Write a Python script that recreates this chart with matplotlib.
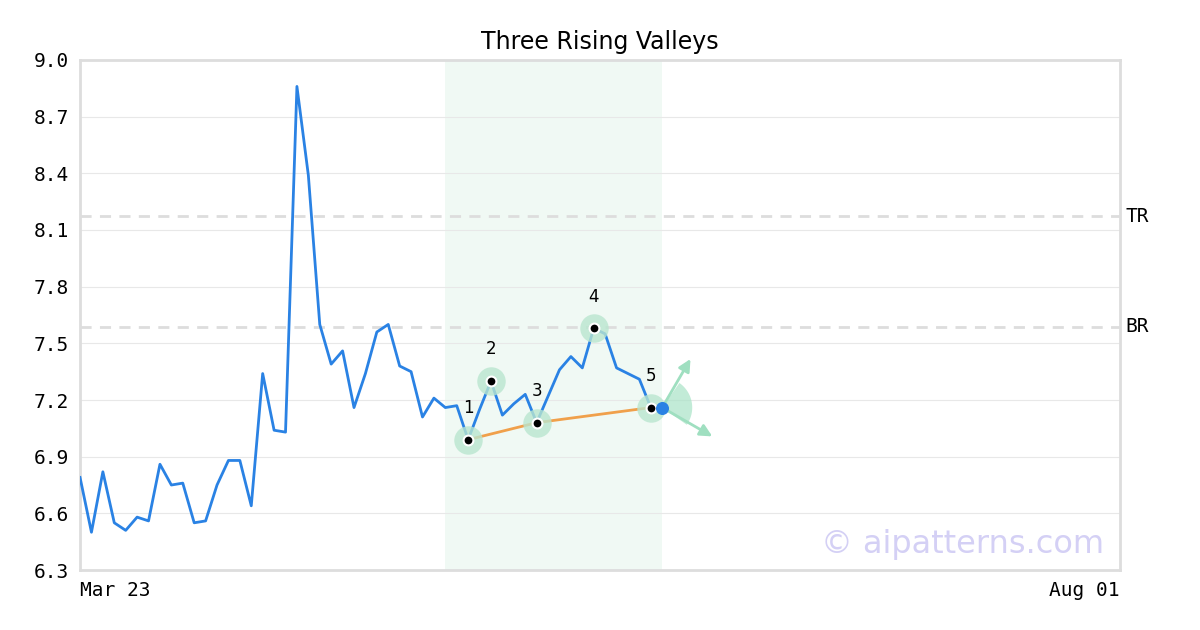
import matplotlib
matplotlib.use("Agg")
import matplotlib.pyplot as plt
from matplotlib.patches import Polygon
import numpy as np

prices = [6.79, 6.50, 6.82, 6.55, 6.51, 6.58, 6.56, 6.86, 6.75, 6.76, 6.55, 6.56,
          6.75, 6.88, 6.88, 6.64, 7.34, 7.04, 7.03, 8.86, 8.39, 7.60, 7.39, 7.46,
          7.16, 7.34, 7.56, 7.60, 7.38, 7.35, 7.11, 7.21, 7.16, 7.17, 6.99, 7.15,
          7.30, 7.12, 7.18, 7.23, 7.08, 7.22, 7.36, 7.43, 7.37, 7.58, 7.55, 7.37,
          7.34, 7.31, 7.16, 7.16]
pivot_idx = [34, 36, 40, 45, 50]
pivot_labels = ["1", "2", "3", "4", "5"]
TR, BR = 8.174, 7.587
zone = (32, 51)
yticks = [6.3, 6.6, 6.9, 7.2, 7.5, 7.8, 8.1, 8.4, 8.7, 9.0]
xtick_pos = [0, 91.1]
xtick_labels = ["Mar 23", "Aug 01"]

fig = plt.figure(figsize=(12, 6.3), dpi=100)
ax = fig.add_axes([0.0667, 0.0952, 0.8666, 0.8096])
x = np.arange(len(prices))
ax.axvspan(zone[0], zone[1], color="#e6f5ee", alpha=0.6, lw=0, zorder=0)
for v in yticks:
    ax.axhline(v, color="#e8e8e8", lw=0.8, zorder=0)
for v, lab in [(TR, "TR"), (BR, "BR")]:
    ax.axhline(v, color="#dddddd", lw=2, ls=(0, (4, 3)), zorder=1)
    ax.text(91.1 + 0.5, v, lab, va="center", ha="left", fontsize=14, family="DejaVu Sans Mono")
ax.plot(x, prices, color="#2a82e4", lw=2, zorder=3)
p1, p3, p5 = pivot_idx[0], pivot_idx[2], pivot_idx[4]
ax.plot([p1, p3, p5], [prices[p1], prices[p3], prices[p5]], color="#f0a04b", lw=2, zorder=4)
for i, lab in zip(pivot_idx, pivot_labels):
    ax.scatter(i, prices[i], s=420, color="#b9e6cf", alpha=0.8, zorder=4, lw=0)
    ax.scatter(i, prices[i], s=50, color="black", edgecolor="white", lw=1.5, zorder=6)
    ax.text(i, prices[i] + 0.12, lab, ha="center", va="bottom", fontsize=12)
last = len(prices) - 1
ax.scatter(last, prices[last], s=70, color="#2a82e4", zorder=6)
ax.annotate("", xy=(53.6, 7.43), xytext=(last, prices[last]),
            arrowprops=dict(arrowstyle="-|>", color="#9fdfc0", lw=2, mutation_scale=18), zorder=5)
ax.annotate("", xy=(55.6, 7.0), xytext=(last, prices[last]),
            arrowprops=dict(arrowstyle="-|>", color="#9fdfc0", lw=2, mutation_scale=18), zorder=5)
ax.set_xlim(0, 91.1)
ax.set_ylim(6.3, 9.0)
ang = np.linspace(np.deg2rad(-35), np.deg2rad(55), 30)
rx, ry = 30 / 11.41, 30 / 188.9
pts = [(last, prices[last])] + [(last + rx * np.cos(a), prices[last] + ry * np.sin(a)) for a in ang]
ax.add_patch(Polygon(pts, closed=True, color="#a8e3c6", alpha=0.7, lw=0, zorder=4))

ax.set_yticks(yticks)
ax.set_yticklabels([f"{v:.1f}" for v in yticks], family="DejaVu Sans Mono", fontsize=14)
ax.set_xticks(xtick_pos)
ax.set_xticklabels(xtick_labels, family="DejaVu Sans Mono", fontsize=14)
ax.get_xticklabels()[0].set_ha("left")
ax.get_xticklabels()[1].set_ha("right")
ax.tick_params(length=0, pad=8)
for s in ax.spines.values():
    s.set_color("#dddddd"); s.set_linewidth(2)
ax.set_title("Three Rising Valleys", fontsize=17, pad=8)
ax.text(0.985, 0.02, "© aipatterns.com", transform=ax.transAxes, ha="right", va="bottom",
        fontsize=23, color="#d4d0f5")
fig.savefig("out.png", dpi=100)
